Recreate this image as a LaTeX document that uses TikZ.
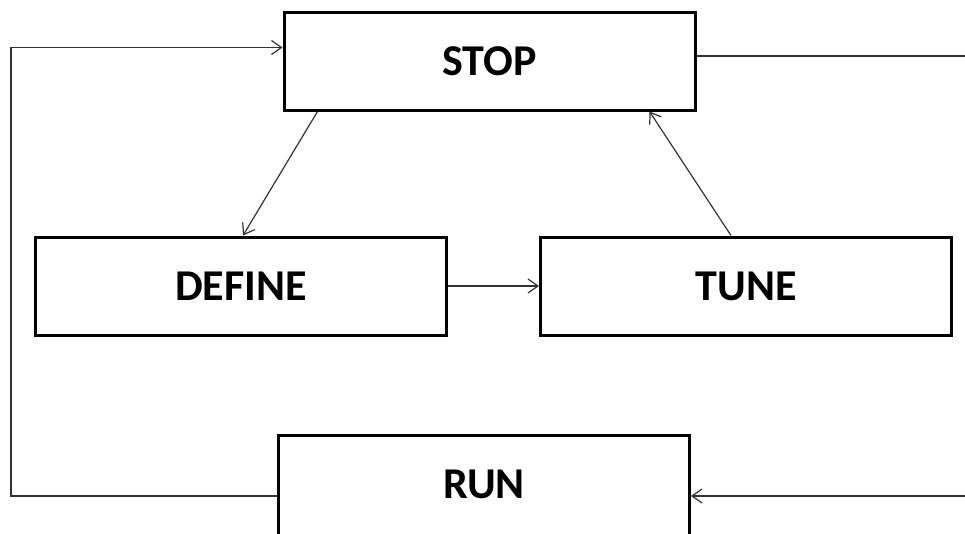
\documentclass[tikz,border=0pt]{standalone}
\usepackage{fontspec}
\setmainfont{Carlito}
\usetikzlibrary{arrows.meta}

\tikzset{
  stage/.style={draw=black, line width=3pt, rectangle, inner sep=0pt,
    minimum width=411pt, minimum height=98pt,
    font=\fontsize{44}{52}\selectfont\bfseries},
  flow/.style={draw=black!80, line width=1.2pt,
    -{Straight Barb[length=10pt,width=14pt,line width=1.2pt]}},
  plain/.style={draw=black!80, line width=1.2pt}
}

\begin{document}
\begin{tikzpicture}[x=1pt, y=-1pt]
  \useasboundingbox (0,0) rectangle (965,533);

  % process stages
  \node[stage] (stop)   at (489.5, 61) {STOP};
  \node[stage] (define) at (241, 286)  {DEFINE};
  \node[stage] (tune)   at (746, 286)  {TUNE};
  % RUN runs past the lower margin
  \node[stage, minimum height=104pt] (run) at (484, 487) {\raisebox{6pt}{RUN}};

  % loop ends at the right margin and the left return path
  \coordinate (outR)   at (966, 56);
  \coordinate (inR)    at (966, 496);
  \coordinate (leftLo) at (11, 496);
  \coordinate (leftHi) at (11, 47.5);

  % main cycle
  \draw[flow] ([xshift=35pt]stop.south west) -- ([xshift=2pt]define.north);
  \draw[flow] (define.east) -- (tune.west);
  \draw[flow] ([xshift=-15pt]tune.north) -- ([xshift=-47pt]stop.south east);

  % STOP runs out to the right, comes back into RUN
  \draw[plain] ([yshift=5pt]stop.east) -- (outR);
  \draw[flow] (inR) -- ([yshift=-9pt]run.east);

  % RUN returns to STOP along the left margin
  \draw[flow] ([yshift=-9pt]run.west) -- (leftLo) -- (leftHi)
    -- ([yshift=13.5pt]stop.west);
\end{tikzpicture}
\end{document}
